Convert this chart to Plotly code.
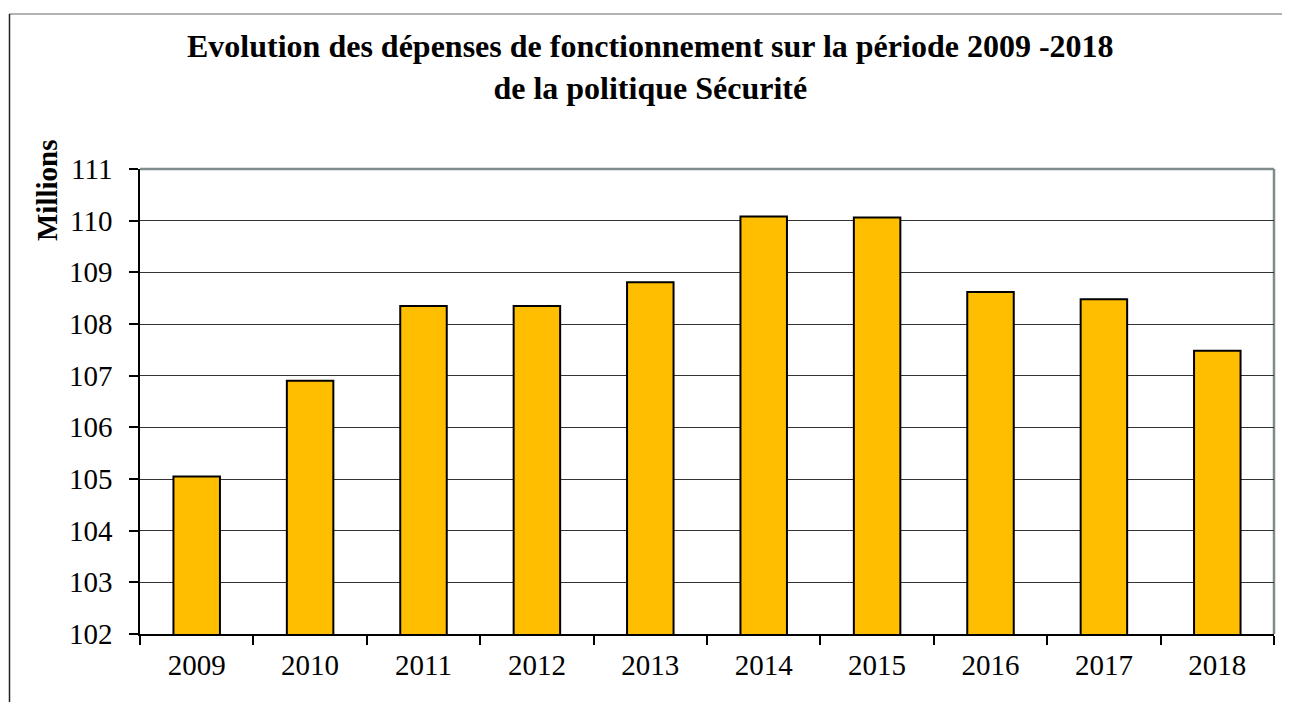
import plotly.graph_objects as go

years = ["2009", "2010", "2011", "2012", "2013", "2014", "2015", "2016", "2017", "2018"]
values = [105.05, 106.90, 108.35, 108.35, 108.81, 110.08, 110.06, 108.62, 108.48, 107.48]
y_ticks = [102, 103, 104, 105, 106, 107, 108, 109, 110, 111]

title_lines = ["Evolution des dépenses de fonctionnement sur la période 2009 -2018",
               "de la politique Sécurité"]
y_title = "Millions"

OFF = 8  # default page body margin
W, H = 1290 - OFF, 702 - OFF
L, R, T, B = 140 - OFF, 16, 169 - OFF, 68
pw, ph = W - L - R, H - T - B

def px(x):  # page pixel -> paper x
    return (x - OFF - L) / pw

def py(y):  # page pixel -> paper y
    return (H - B - (y - OFF)) / ph

fig = go.Figure()
fig.add_trace(go.Bar(
    x=years, y=values,
    marker=dict(color="#FFBF00", line=dict(color="#000000", width=2)),
    width=0.41,
))

font_family = "Liberation Serif, Times New Roman, serif"

fig.update_layout(
    width=W, height=H,
    margin=dict(l=L, r=R, t=T, b=B),
    paper_bgcolor="white", plot_bgcolor="white",
    showlegend=False,
    font=dict(family=font_family, color="black", size=29),
    xaxis=dict(
        type="category",
        showgrid=False,
        showline=True, linecolor="black", linewidth=1.5,
        ticks="outside", tickson="boundaries", ticklen=9, tickcolor="black", tickwidth=1.5,
        tickfont=dict(size=29), ticklabelstandoff=4,
    ),
    yaxis=dict(
        range=[102, 111],
        tickvals=y_ticks,
        showgrid=True, gridcolor="#333333", gridwidth=1.2,
        showline=True, linecolor="black", linewidth=1.5,
        ticks="outside", ticklen=9, tickcolor="black", tickwidth=1.5,
        tickfont=dict(size=29), ticklabelstandoff=11,
        zeroline=False,
    ),
    shapes=[
        dict(type="line", xref="paper", yref="paper", x0=0, x1=1, y0=1, y1=1,
             line=dict(color="#7f8c8c", width=2.5), layer="below"),
        dict(type="line", xref="paper", yref="paper", x0=1, x1=1, y0=0, y1=1,
             line=dict(color="#7f8c8c", width=2.5), layer="below"),
        dict(type="line", xref="paper", yref="paper", x0=px(9), x1=px(1290), y0=py(14), y1=py(14),
             line=dict(color="#9a9a9a", width=1.5)),
        dict(type="line", xref="paper", yref="paper", x0=px(9.5), x1=px(9.5), y0=py(14), y1=py(702),
             line=dict(color="#222222", width=1.5)),
    ],
    annotations=[
        dict(text="<br>".join("<b>" + t + "</b>" for t in title_lines),
             xref="paper", yref="paper", x=px(650), y=py(67), xanchor="center", yanchor="middle",
             showarrow=False, font=dict(size=32, family=font_family)),
        dict(text="<b>" + y_title + "</b>", textangle=-90,
             xref="paper", yref="paper", x=px(47), y=py(190), xanchor="center", yanchor="middle",
             showarrow=False, font=dict(size=29, family=font_family)),
    ],
)

fig.write_html("out.html")
